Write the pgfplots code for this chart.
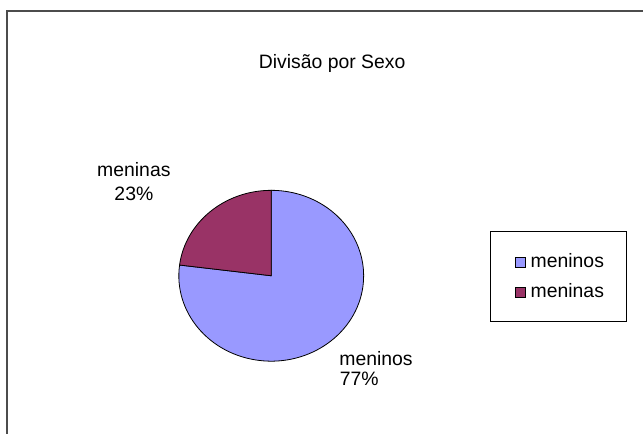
\documentclass[border=0pt]{standalone}
\usepackage{fontspec}
\setmainfont{Liberation Sans}
\usepackage{pgfplots}
\usepackage{pgfplotstable}
\pgfplotsset{compat=1.18}
\definecolor{meninos}{HTML}{9999FF}
\definecolor{meninas}{HTML}{993366}
\pgfplotstableread{
label value
meninos 77
meninas 23
}\piedata
\begin{document}
\begin{tikzpicture}
\begin{axis}[
  hide axis, scale only axis, width=644pt, height=434pt,
  xmin=0, xmax=644, ymin=0, ymax=434, y dir=reverse,
  clip=false,
  font=\fontsize{19.4}{22}\selectfont,
]
\pgfplotstablegetelem{0}{value}\of\piedata \let\vA\pgfplotsretval
\pgfplotstablegetelem{1}{value}\of\piedata \let\vB\pgfplotsretval
\pgfmathsetmacro\aB{90+360*\vB/(\vA+\vB)}
\path (axis cs:0,0) rectangle (axis cs:644,434);
\draw[black!70, line width=1.2pt] (axis cs:7,434) -- (axis cs:7,11) -- (axis cs:644,11);
\node[anchor=base] at (axis cs:332.5,69) {Divisão por Sexo};
\filldraw[fill=meninos, draw=black, line width=0.8pt]
  (axis cs:271.5,276) -- ++(\aB:92.5pt and 85.5pt)
  arc[start angle=\aB, end angle=450, x radius=92.5pt, y radius=85.5pt] -- cycle;
\filldraw[fill=meninas, draw=black, line width=0.8pt]
  (axis cs:271.5,276) -- ++(90:92.5pt and 85.5pt)
  arc[start angle=90, end angle=\aB, x radius=92.5pt, y radius=85.5pt] -- cycle;
\node[anchor=base] at (axis cs:134,177) {meninas};
\node[anchor=base] at (axis cs:134,201) {23\%};
\node[anchor=base west, inner sep=0pt] at (axis cs:339.5,366) {meninos};
\node[anchor=base west, inner sep=0pt] at (axis cs:340,386) {77\%};
\draw[black, line width=0.8pt] (axis cs:491,232) rectangle (axis cs:627,322);
\filldraw[fill=meninos, draw=black, line width=0.6pt] (axis cs:516,258) rectangle (axis cs:526,268);
\filldraw[fill=meninas, draw=black, line width=0.6pt] (axis cs:516,288) rectangle (axis cs:526,298);
\node[anchor=base west, inner sep=0pt] at (axis cs:531,268) {meninos};
\node[anchor=base west, inner sep=0pt] at (axis cs:531,298) {meninas};
\end{axis}
\end{tikzpicture}
\end{document}
